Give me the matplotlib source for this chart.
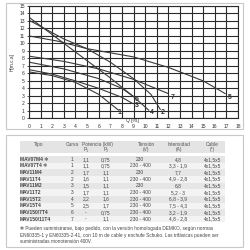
import matplotlib
matplotlib.use("Agg")
import matplotlib.pyplot as plt
from matplotlib.patches import Rectangle

plt.rcParams['font.family'] = ['Liberation Sans', 'DejaVu Sans']

# curvas Q [l/s] - H [m.c.a]
c1_q = [0, 2, 4, 6, 7.7]
c1_h = [6.2, 5.7, 4.8, 3.2, 1.1]
c2_q = [0, 3, 5, 7, 9, 10.5, 11.3]
c2_h = [13.1, 10.6, 9.3, 7.5, 5.3, 3.2, 1.2]
c3_q = [0, 2, 4, 6, 8, 8.9]
c3_h = [6.5, 5.9, 5.0, 4.0, 2.8, 2.0]
c4_q = [0, 2.5, 5, 7, 9, 10.3]
c4_h = [13.5, 10.6, 7.7, 5.4, 2.9, 1.1]
c5_q = [0, 2.5, 5, 9, 12, 15, 16.9]
c5_h = [11.0, 10.3, 9.3, 8.2, 6.8, 5.0, 3.3]
c6_q = [0, 3, 6, 8, 9.0]
c6_h = [7.5, 6.6, 5.3, 4.0, 2.9]
c7_q = [0, 3, 6, 9, 12.0]
c7_h = [8.3, 7.6, 6.6, 5.2, 3.3]
curvas = [(c1_q, c1_h), (c2_q, c2_h), (c3_q, c3_h), (c4_q, c4_h),
          (c5_q, c5_h), (c6_q, c6_h), (c7_q, c7_h)]
etiquetas = ['1', '2', '3', '4', '5', '6', '7']
etq_q = [7.8, 11.5, 9.3, 10.6, 17.3, 9.3, 12.4]
etq_h = [0.76, 0.76, 1.7, 0.76, 2.8, 2.5, 2.8]

# tabla
tipo = ['MAV07M4 ✻', 'MAV07T4 ✻', 'MAV11M4', 'MAV11T4', 'MAV11M2', 'MAV11T2',
        'MAV15T2', 'MAV15T4', 'MAV150/7T4', 'MAV150/11T4']
curva = ['1', '1', '2', '2', '3', '3', '4', '5', '6', '7']
p1 = ['1,1', '1,1', '1,7', '1,6', '1,5', '1,7', '2,2', '2,5', '-', '-']
p2 = ['0,75', '0,75', '1,1', '1,1', '1,1', '1,1', '1,6', '1,7', '0,75', '1,1']
tension = ['230', '230 - 400', '230', '230 - 400', '230', '230 - 400',
           '230 - 400', '230 - 400', '230 - 400', '230 - 400']
intensidad = ['4,8', '3,3 - 1,9', '7,7', '4,9 - 2,8', '6,8', '5,2 - 3',
              '6,8 - 3,9', '7,5 - 4,3', '3,2 - 1,9', '4,8 - 2,8']
cable = ['4x1,5x5'] * 10
nota = ("✻ Pueden suministrarse, bajo pedido, con la versión homologada DEMKO, según normas\n"
        "EN60335-1 y EN60335-2-41, con 10 m de cable y enchufe Schuko. Las trifásicas pueden ser\n"
        "suministradas monotensión 400V.")

fig = plt.figure(figsize=(2.5, 2.5), dpi=100)

# fondo y marcos (coordenadas en pixeles)
bg = fig.add_axes([0, 0, 1, 1])
bg.set_xlim(0, 250)
bg.set_ylim(250, 0)
bg.axis('off')
bg.add_patch(Rectangle((6, 3), 237, 126, fill=False, ec='#c8c8c8', lw=0.8))
bg.add_patch(Rectangle((6, 135), 237, 112, fill=False, ec='#c8c8c8', lw=0.8))

# grafico
ax = fig.add_axes([29 / 250, 1 - 118.3 / 250, 209 / 250, 112.3 / 250])
ax.set_xlim(0, 18)
ax.set_ylim(0, 15)
ax.set_xticks(range(0, 19))
ax.set_yticks(range(0, 16))
ax.grid(True, color='#2a2a2a', lw=0.8)
for s in ax.spines.values():
    s.set_color('#2a2a2a')
    s.set_linewidth(0.8)
ax.tick_params(labelsize=3.6, colors='#333333', length=1.5, width=0.6, pad=1.5)
ax.tick_params(axis='x', length=0, pad=4)
for (q, h) in curvas:
    ax.plot(q, h, color='#3a3a3a', lw=0.8)
for t, q, h in zip(etiquetas, etq_q, etq_h):
    ax.text(q, h, t, fontsize=5, fontweight='bold', color='#333333',
            ha='center', va='center')
ax.text(8.9, -0.35, 'Q [l/s]', fontsize=3.4, color='#333333', ha='center', va='center')
ax.set_ylabel('H[m.c.a]', fontsize=3.4, color='#333333', labelpad=3)

# tabla
bg.add_patch(Rectangle((20, 141), 205, 12, color='#e4e4e4', lw=0))
cab_x = [39, 72, 97, 146, 179, 212]
cab1 = ['Tipo', 'Curva', 'Potencia (kW)', 'Tensión', 'Intensidad', 'Cable']
cab2 = ['', '', '', '(V)', '(A)', '(*)']
for x, a, b in zip(cab_x, cab1, cab2):
    bg.text(x, 144.5, a, fontsize=3.5, color='#555555', ha='center', va='center')
    if b:
        bg.text(x, 149, b, fontsize=3.5, color='#555555', ha='center', va='center')
bg.text(86, 149, 'P₁', fontsize=3.5, color='#555555', ha='center', va='center')
bg.text(106, 149, 'P₂', fontsize=3.5, color='#555555', ha='center', va='center')

y0 = 159.3
dy = 6.65
for i in range(len(tipo)):
    y = y0 + i * dy
    col = '#e6e6e6' if i % 2 == 0 else '#f3f3f3'
    bg.add_patch(Rectangle((20, y - dy / 2), 205, dy, color=col, lw=0))
    bg.text(20, y, tipo[i], fontsize=3.5, fontweight='bold', color='#444444',
            ha='left', va='center')
    for x, v in zip([72, 86, 106, 140, 178, 213],
                    [curva[i], p1[i], p2[i], tension[i], intensidad[i], cable[i]]):
        bg.text(x, y, v, fontsize=3.5, color='#444444', ha='center', va='center')

bg.text(20, 235, nota, fontsize=3.4, color='#444444', ha='left', va='center',
        linespacing=1.35, family=['Liberation Sans', 'DejaVu Sans'])

fig.savefig('out.png', dpi=100)
